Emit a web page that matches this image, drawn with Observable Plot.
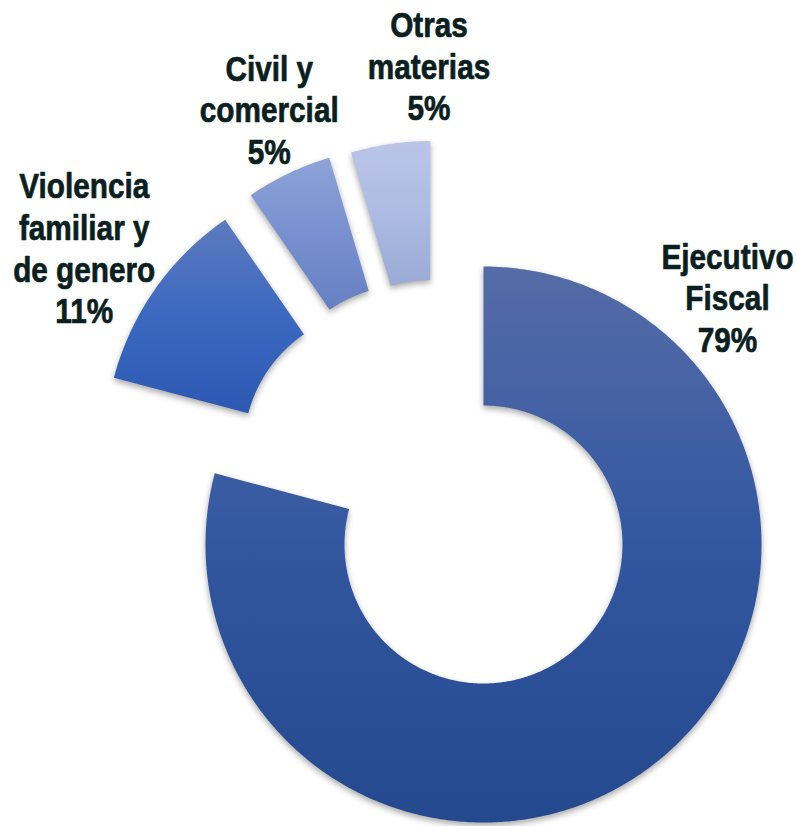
<!DOCTYPE html>
<html>
<head>
<meta charset="utf-8">
<script src="https://cdn.jsdelivr.net/npm/d3@7"></script>
<script src="https://cdn.jsdelivr.net/npm/@observablehq/plot@0.6"></script>
<style>
  html, body { margin: 0; padding: 0; background: #ffffff; }
  #chart { width: 796px; height: 826px; }
</style>
</head>
<body>
<div id="chart"></div>
<script>
// ---- Data ----
const categories = ["Ejecutivo Fiscal", "Violencia familiar y de genero", "Civil y comercial", "Otras materias"];
const labelLines = ["Ejecutivo\nFiscal", "Violencia\nfamiliar y\nde genero", "Civil y\ncomercial", "Otras\nmaterias"];
const values = [79.2, 11.3, 5.0, 4.6];

// ---- Layout / style (not data) ----
const W = 796, H = 826;
const CX = 483, CY = 544, R = 278;      // centre of the ring (px) and outer radius (px)
const innerRatio = 0.5;
const explode = [null, {d: 0.5, a: 313.5}, {d: 0.51, a: 328}, {d: 0.49, a: 337}];
const labelPos = [{r: 1.25, a: 44.6}, {r: 1.295, a: 304}, {r: 1.24, a: 336.2}, {r: 1.272, a: 359.8}];
const gradients = [
  [[0, "#556ca7"], [0.5, "#3257a0"], [1, "#24498e"]],
  [[0, "#5e7abf"], [0.5, "#3b69c0"], [1, "#2c58b1"]],
  [[0, "#8ea3d9"], [0.5, "#7890cf"], [1, "#6580c2"]],
  [[0, "#bac5e8"], [0.5, "#adbbe2"], [1, "#9aaad6"]]
];

const rad = (deg) => deg * Math.PI / 180;
const total = d3.sum(values);

// Build slice geometry in data units (1 unit = outer radius), angles clockwise from 12 o'clock
let cum = 0;
const slices = categories.map((c, i) => {
  const a0 = cum / total * 360;
  cum += values[i];
  const a1 = cum / total * 360;
  const e = explode[i];
  const ox = e ? e.d * Math.sin(rad(e.a)) : 0;
  const oy = e ? e.d * Math.cos(rad(e.a)) : 0;
  return {cat: c, i, a0, a1, ox, oy};
});

const arcPoints = [];
for (const s of slices) {
  const n = Math.max(8, Math.ceil((s.a1 - s.a0) / 0.5));
  for (let k = 0; k <= n; k++) {
    const a = s.a0 + (s.a1 - s.a0) * k / n;
    arcPoints.push({cat: s.cat, grad: `url(#grad${s.i})`, x: s.ox + Math.sin(rad(a)), y: s.oy + Math.cos(rad(a))});
  }
  for (let k = n; k >= 0; k--) {
    const a = s.a0 + (s.a1 - s.a0) * k / n;
    arcPoints.push({cat: s.cat, grad: `url(#grad${s.i})`, x: s.ox + innerRatio * Math.sin(rad(a)), y: s.oy + innerRatio * Math.cos(rad(a))});
  }
}

const labels = slices.map((s) => {
  const p = labelPos[s.i];
  return {
    text: labelLines[s.i] + "\n" + Math.round(values[s.i] / total * 100) + "%",
    x: s.ox + p.r * Math.sin(rad(p.a)),
    y: s.oy + p.r * Math.cos(rad(p.a))
  };
});

// Gradient definitions as a render-only mark
function defsMark() {
  const ns = "http://www.w3.org/2000/svg";
  const defs = document.createElementNS(ns, "defs");
  gradients.forEach((stops, i) => {
    const lg = document.createElementNS(ns, "linearGradient");
    lg.setAttribute("id", `grad${i}`);
    lg.setAttribute("x1", "0"); lg.setAttribute("y1", "0");
    lg.setAttribute("x2", "0"); lg.setAttribute("y2", "1");
    for (const [o, col] of stops) {
      const st = document.createElementNS(ns, "stop");
      st.setAttribute("offset", o);
      st.setAttribute("stop-color", col);
      lg.appendChild(st);
    }
    defs.appendChild(lg);
  });
  return defs;
}

const plot = Plot.plot({
  width: W,
  height: H,
  margin: 0,
  x: {domain: [-CX / R, (W - CX) / R], axis: null},
  y: {domain: [(CY - H) / R, CY / R], axis: null},
  color: {type: "identity"},
  style: {background: "#ffffff", overflow: "visible"},
  marks: [
    defsMark,
    Plot.line(arcPoints, {
      x: "x", y: "y", z: "cat", fill: "grad", stroke: "none", curve: "linear",
      imageFilter: "drop-shadow(0px 3px 3px rgba(0,0,0,0.35))"
    }),
    Plot.text(labels, {
      x: "x", y: "y", text: "text",
      fontSize: 35, fontWeight: "bold", fontFamily: "'Liberation Sans', Arial, sans-serif",
      lineHeight: 1.19, fill: "#0b1f1f", stroke: "#0b1f1f", strokeWidth: 0.7,
      textAnchor: "middle", lineAnchor: "middle",
      render(index, scales, vals, dims, ctx, next) {
        const g = next(index, scales, vals, dims, ctx);
        for (const t of g.querySelectorAll("text")) {
          t.setAttribute("transform", (t.getAttribute("transform") || "") + " scale(0.85,1)");
        }
        return g;
      }
    })
  ]
});

document.getElementById("chart").appendChild(plot);
</script>
</body>
</html>
